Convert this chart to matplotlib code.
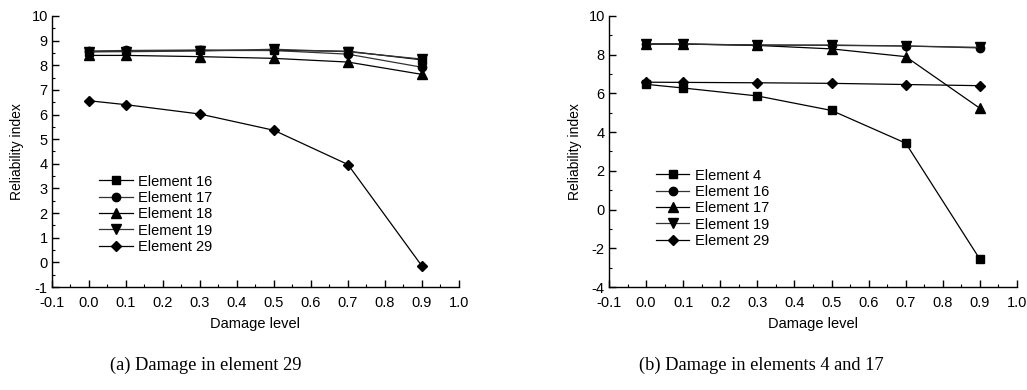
import matplotlib
matplotlib.use("Agg")
import matplotlib.pyplot as plt
from matplotlib.ticker import MultipleLocator, FormatStrFormatter

plt.rcParams['font.family'] = ['Liberation Sans', 'DejaVu Sans']
plt.rcParams['axes.unicode_minus'] = False

damage = [0.0, 0.1, 0.3, 0.5, 0.7, 0.9]

# Panel (a): damage in element 29
a_labels = ["Element 16", "Element 17", "Element 18", "Element 19", "Element 29"]
a_e16 = [8.55, 8.57, 8.60, 8.60, 8.57, 8.22]
a_e17 = [8.58, 8.60, 8.62, 8.60, 8.45, 7.92]
a_e18 = [8.40, 8.40, 8.35, 8.28, 8.13, 7.63]
a_e19 = [8.55, 8.55, 8.58, 8.65, 8.55, 8.25]
a_e29 = [6.56, 6.40, 6.02, 5.36, 3.97, -0.15]

# Panel (b): damage in elements 4 and 17
b_labels = ["Element 4", "Element 16", "Element 17", "Element 19", "Element 29"]
b_e4 = [6.47, 6.28, 5.87, 5.12, 3.43, -2.57]
b_e16 = [8.55, 8.55, 8.50, 8.48, 8.45, 8.35]
b_e17 = [8.55, 8.55, 8.48, 8.30, 7.90, 5.23]
b_e19 = [8.55, 8.55, 8.50, 8.50, 8.45, 8.38]
b_e29 = [6.58, 6.57, 6.55, 6.52, 6.46, 6.40]

markers = ['s', 'o', '^', 'v', 'D']
colors = ['black', '#333333', 'black', '#333333', 'black']
msizes = [5.5, 6, 6.5, 6.5, 5]

fig = plt.figure(figsize=(10.27, 3.9), dpi=100)
ax1 = fig.add_axes([0.0506, 0.2641, 0.3963, 0.6949])
ax2 = fig.add_axes([0.593, 0.2641, 0.3973, 0.6949])


def style(ax, ylim, ymajor, yminor):
    ax.set_xlim(-0.1, 1.0)
    ax.set_ylim(*ylim)
    ax.xaxis.set_major_locator(MultipleLocator(0.1))
    ax.xaxis.set_minor_locator(MultipleLocator(0.05))
    ax.xaxis.set_major_formatter(FormatStrFormatter('%.1f'))
    ax.yaxis.set_major_locator(MultipleLocator(ymajor))
    ax.yaxis.set_minor_locator(MultipleLocator(yminor))
    for s in ['top', 'right']:
        ax.spines[s].set_visible(False)
    for s in ['left', 'bottom']:
        ax.spines[s].set_linewidth(1.0)
    ax.tick_params(which='major', direction='in', length=5, width=1.0, labelsize=10.5)
    ax.tick_params(axis='x', which='major', pad=6.5)
    ax.tick_params(axis='y', which='major', pad=3)
    ax.tick_params(which='minor', direction='in', length=2.5, width=0.8)
    ax.set_xlabel('Damage level', fontsize=10.5, labelpad=5)
    ax.set_ylabel('Reliability index', fontsize=10, labelpad=5)


series_a = [a_e16, a_e17, a_e18, a_e19, a_e29]
for ys, lab, m, c, ms in zip(series_a, a_labels, markers, colors, msizes):
    ax1.plot(damage, ys, marker=m, color=c, mfc='black', mec='black', lw=0.9, ms=ms,
             label=lab, clip_on=False)
style(ax1, (-1, 10), 1, 0.5)
ax1.legend(loc='upper left', bbox_to_anchor=(0.116, 0.415), frameon=False,
           fontsize=10.5, handlelength=2.3, handletextpad=0.35, labelspacing=0.16,
           borderpad=0, borderaxespad=0, numpoints=1)

series_b = [b_e4, b_e16, b_e17, b_e19, b_e29]
for ys, lab, m, c, ms in zip(series_b, b_labels, markers, colors, msizes):
    ax2.plot(damage, ys, marker=m, color=c, mfc='black', mec='black', lw=0.9, ms=ms,
             label=lab, clip_on=False)
style(ax2, (-4, 10), 2, 1)
ax2.legend(loc='upper left', bbox_to_anchor=(0.115, 0.437), frameon=False,
           fontsize=10.5, handlelength=2.3, handletextpad=0.35, labelspacing=0.16,
           borderpad=0, borderaxespad=0, numpoints=1)

fig.text(0.2, 0.063, '(a) Damage in element 29', ha='center', va='center',
         fontsize=13.2, family='Liberation Serif')
fig.text(0.741, 0.063, '(b) Damage in elements 4 and 17', ha='center', va='center',
         fontsize=13.2, family='Liberation Serif')

fig.savefig('out.png', dpi=100)
